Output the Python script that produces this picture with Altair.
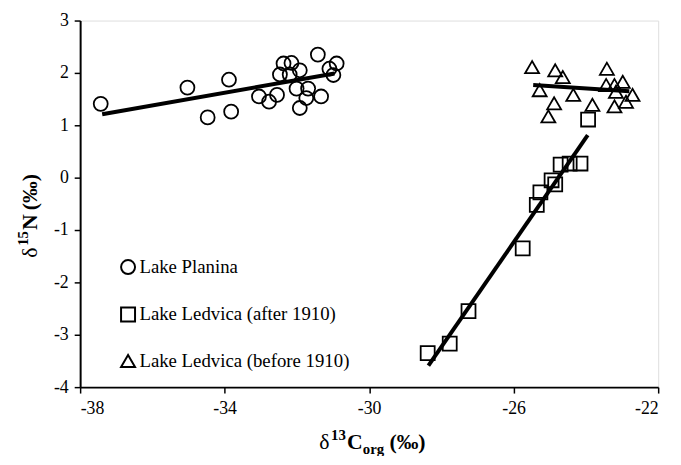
import altair as alt
import pandas as pd

# ---------------- data ----------------
planina_x = [-37.43, -35.03, -34.47, -33.88, -33.82, -33.05, -32.77, -32.55, -32.47, -32.37, -32.15,
             -31.92, -32.20, -32.01, -31.69, -31.74, -31.92, -31.33, -31.42, -31.10, -30.90, -30.99]
planina_y = [1.41, 1.72, 1.15, 1.87, 1.26, 1.55, 1.45, 1.58, 1.97, 2.18, 2.19,
             2.05, 1.97, 1.70, 1.70, 1.52, 1.33, 1.55, 2.35, 2.08, 2.18, 1.96]

after_x = [-28.38, -27.77, -27.25, -25.75, -25.36, -25.26, -24.95, -24.85, -24.70, -24.45, -24.15, -23.94]
after_y = [-3.35, -3.17, -2.55, -1.35, -0.52, -0.28, -0.05, -0.13, 0.25, 0.27, 0.27, 1.11]

before_x = [-25.49, -24.85, -24.64, -25.28, -24.35, -24.88, -25.04, -23.82, -23.42, -23.44, -23.21,
            -22.98, -23.17, -23.21, -22.89, -22.71]
before_y = [2.11, 2.05, 1.92, 1.67, 1.58, 1.42, 1.17, 1.39, 2.08, 1.77, 1.77,
            1.83, 1.64, 1.36, 1.45, 1.58]

# fitted lines (end points)
planina_line_x = [-37.39, -30.96]
planina_line_y = [1.21, 1.99]
after_line_x = [-28.36, -23.95]
after_line_y = [-3.59, 0.81]
before_line_x = [-25.46, -22.80]
before_line_y = [1.77, 1.65]

series_names = ["Lake Planina", "Lake Ledvica (after 1910)", "Lake Ledvica (before 1910)"]
x_ticks = [-38, -34, -30, -26, -22]
y_ticks = [-4, -3, -2, -1, 0, 1, 2, 3]

# ---------------- tables ----------------
pts = pd.concat([
    pd.DataFrame({"x": planina_x, "y": planina_y, "series": series_names[0]}),
    pd.DataFrame({"x": after_x, "y": after_y, "series": series_names[1]}),
    pd.DataFrame({"x": before_x, "y": before_y, "series": series_names[2]}),
], ignore_index=True)

lines = pd.concat([
    pd.DataFrame({"x": planina_line_x, "y": planina_line_y, "series": series_names[0]}),
    pd.DataFrame({"x": after_line_x, "y": after_line_y, "series": series_names[1]}),
    pd.DataFrame({"x": before_line_x, "y": before_line_y, "series": series_names[2]}),
], ignore_index=True)

FONT = "Liberation Serif"
W, H = 585, 371

xscale = alt.Scale(domain=[-38, -22], nice=False, zero=False)
yscale = alt.Scale(domain=[-4, 3], nice=False, zero=False)

xaxis = alt.Axis(values=x_ticks, title=None, grid=False, labelExpr="'' + datum.value",
                 labelFont=FONT, labelFontSize=18, labelColor="black", labelPadding=7,
                 tickSize=6, tickWidth=1.5, tickColor="black",
                 domainColor="black", domainWidth=2)
yaxis = alt.Axis(values=y_ticks, title=None, grid=False, labelExpr="'' + datum.value",
                 labelFont=FONT, labelFontSize=18, labelColor="black", labelPadding=6,
                 tickSize=6, tickWidth=1.5, tickColor="black",
                 domainColor="black", domainWidth=2)

line_layer = alt.Chart(lines).mark_line(color="black", strokeWidth=4).encode(
    x=alt.X("x:Q", scale=xscale, axis=xaxis),
    y=alt.Y("y:Q", scale=yscale, axis=yaxis),
    detail="series:N",
)

point_layer = alt.Chart(pts).mark_point(filled=False, color="black", strokeWidth=1.8,
                                        opacity=1, size=200).encode(
    x=alt.X("x:Q", scale=xscale, axis=xaxis),
    y=alt.Y("y:Q", scale=yscale, axis=yaxis),
    shape=alt.Shape("series:N",
                    scale=alt.Scale(domain=series_names, range=["circle", "square", "triangle-up"]),
                    legend=alt.Legend(title=None, orient="none", legendX=39, legendY=240,
                                      labelFont=FONT, labelFontSize=19, labelColor="black",
                                      labelLimit=400,
                                      symbolSize=200, symbolStrokeWidth=2, symbolStrokeColor="black",
                                      symbolFillColor="white", rowPadding=25, labelOffset=2,
                                      padding=0)),
)

one = pd.DataFrame({"k": [0]})


def txt(s, x, y, size, bold=True, angle=0, baseline="alphabetic"):
    return alt.Chart(one).mark_text(text=s, font=FONT, fontSize=size,
                                    fontWeight="bold" if bold else "normal",
                                    color="black", align="left", baseline=baseline,
                                    angle=angle).encode(x=alt.value(x), y=alt.value(y))


# x-axis title: δ13Corg (‰)
xb = 434
x0 = 242
xt = [
    txt("δ", x0, xb, 22, bold=False),
    txt("13", x0 + 12, xb - 9, 15),
    txt("C", x0 + 28, xb, 22),
    txt("org", x0 + 44, xb + 5, 15),
    txt("(‰)", x0 + 71, xb, 22),
]
# y-axis title: δ15N (‰), rotated
yx = -44
yt = [
    txt("δ", yx, 240, 22, bold=False, angle=270),
    txt("15", yx - 9, 228, 15, angle=270),
    txt("N", yx, 212, 22, angle=270),
    txt("(‰)", yx, 192, 22, angle=270),
]

chart = alt.layer(line_layer, point_layer, *xt, *yt).properties(
    width=W, height=H,
    autosize=alt.AutoSizeParams(type="none"),
    padding={"left": 73, "top": 10, "right": 15, "bottom": 67},
).configure_view(stroke="black", strokeWidth=2).configure(background="white")

chart.save("out.html", embed_options={"renderer": "svg", "actions": False})
